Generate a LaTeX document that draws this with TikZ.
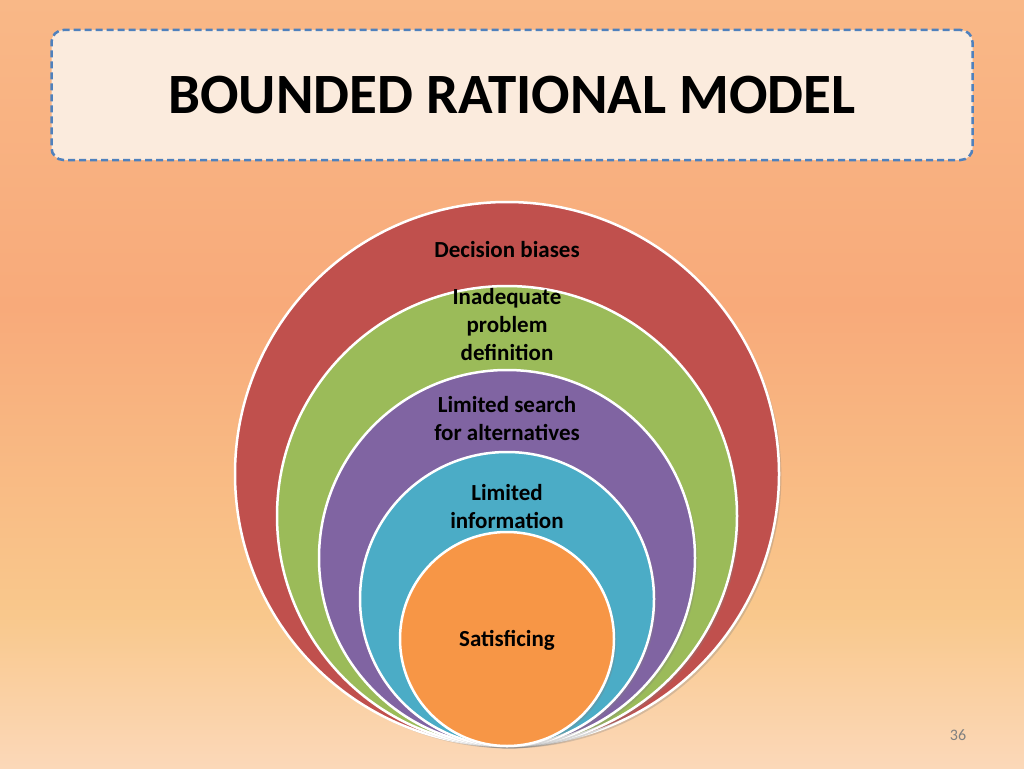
\documentclass[tikz,border=0pt]{standalone}
\usepackage{fontspec}
\setmainfont{Carlito}
\usetikzlibrary{shadows}
\definecolor{ringred}{HTML}{C0504D}
\definecolor{ringgreen}{HTML}{9BBB59}
\definecolor{ringpurple}{HTML}{8064A2}
\definecolor{ringcyan}{HTML}{4BACC6}
\definecolor{ringorange}{HTML}{F79646}
\definecolor{frameblue}{HTML}{4F81BD}
\definecolor{bga}{HTML}{FAD8A8}
\definecolor{bgb}{HTML}{F9B887}
\definecolor{bgc}{HTML}{F8AA7A}
\definecolor{bgd}{HTML}{F9C88C}
\definecolor{bge}{HTML}{FCE0CF}
\definecolor{bgf}{HTML}{FBE9DA}
\definecolor{framefill}{HTML}{FBEBDD}
% stops run top to bottom, the picture's y axis is flipped
\pgfdeclareverticalshading{slidebg}{100bp}{
  color(0bp)=(bgf); color(20bp)=(bge); color(35bp)=(bgd);
  color(55bp)=(bgc); color(75bp)=(bgb); color(100bp)=(bga)}
\begin{document}
\begin{tikzpicture}[x=1pt,y=-1pt,
    ring/.style={circle,draw=white,line width=2.5pt,drop shadow={opacity=0.3},inner sep=0pt},
    ringlabel/.style={font=\bfseries\fontsize{23}{28}\selectfont,align=center}]
  \useasboundingbox (0,0) rectangle (1024,768);
  \shade[shading=slidebg] (0,0) rectangle (1024,768);

  % title
  \node[draw=frameblue,dash pattern=on 7pt off 4pt,line width=2.5pt,rounded corners=12pt,fill=framefill,
    minimum width=921pt,minimum height=130pt] (frame) at (512,95) {};
  \node[font=\bfseries\fontsize{57}{68}\selectfont] (title) at (frame.center) {BOUNDED RATIONAL MODEL};

  % nested rings, tangent at the bottom
  \foreach \r/\c in {272/ringred,230/ringgreen,188/ringpurple,147/ringcyan,107/ringorange}
    \path[ring,fill=\c] (507,746-\r) circle (\r);

  \node[ringlabel] (biases) at (507,250) {Decision biases};
  \node[ringlabel] (definition) at (507,325) {Inadequate\\problem\\definition};
  \node[ringlabel] (search) at (507,419) {Limited search\\for alternatives};
  \node[ringlabel] (information) at (507,507) {Limited\\information};
  \node[ringlabel] (satisficing) at (507,640) {Satisficing};

  \node[font=\rmfamily\fontsize{16}{18}\selectfont,text=gray] (page) at (958,735) {36};
\end{tikzpicture}
\end{document}
